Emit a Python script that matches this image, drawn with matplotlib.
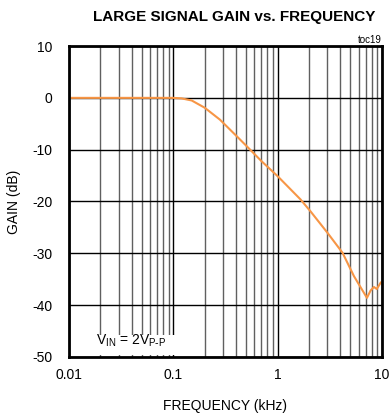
import matplotlib.pyplot as plt
from matplotlib.patches import Rectangle

plt.rcParams['font.family'] = ['Liberation Sans', 'DejaVu Sans']
plt.rcParams['axes.unicode_minus'] = False

# Gain curve
freq_khz = [0.01, 0.05, 0.1, 0.12, 0.15, 0.2, 0.28, 0.42, 0.51, 0.7, 1.0,
            1.66, 2.07, 3.0, 4.2, 5.4, 7.2, 7.8, 8.4, 8.95, 9.8, 10.0]
gain_db = [0.0, 0.0, 0.0, -0.1, -0.5, -1.9, -4.2, -7.7, -9.4, -12.2, -15.1,
           -19.6, -21.9, -26.0, -29.9, -34.4, -38.6, -37.2, -36.5, -36.9, -35.6, -35.8]

x_ticks = [0.01, 0.1, 1, 10]
x_ticklabels = ['0.01', '0.1', '1', '10']
y_ticks = [-50, -40, -30, -20, -10, 0, 10]

fig = plt.figure(figsize=(3.9, 4.15), dpi=100)
ax = fig.add_axes([0.177, 0.140, 0.802, 0.749])

ax.set_xscale('log')
ax.set_xlim(0.01, 10)
ax.set_ylim(-50, 10)

# grid: decades and every 10 dB in black, minor decades in gray
ax.grid(which='major', axis='both', color='black', lw=1.0)
ax.grid(which='minor', axis='x', color='#606060', lw=1.0)
ax.set_axisbelow(True)

ax.plot(freq_khz, gain_db, color='#f79646', lw=1.5, zorder=3)

ax.set_xticks(x_ticks)
ax.set_xticklabels(x_ticklabels)
ax.set_yticks(y_ticks)
ax.tick_params(which='both', length=0, labelsize=10, pad=8)
ax.tick_params(axis='y', pad=12)

for s in ax.spines.values():
    s.set_linewidth(2)
    s.set_zorder(4)

ax.set_xlabel('FREQUENCY (kHz)', fontsize=10, labelpad=12)
ax.set_ylabel('GAIN (dB)', fontsize=10, labelpad=8)

fig.text(0.60, 0.958, 'LARGE SIGNAL GAIN vs. FREQUENCY', ha='center', va='center',
         fontsize=11, fontweight='bold')
ax.text(1.0, 1.005, 'toc19', transform=ax.transAxes, ha='right', va='bottom', fontsize=7)

# white patch behind the condition label (drawn on top of the axes)
fig.add_artist(Rectangle((0.007, 0.007), 0.343, 0.063, transform=ax.transAxes,
                         facecolor='white', edgecolor='none', zorder=1))
fig.text(0.085, 0.025, r'V$_{\mathregular{IN}}$ = 2V$_{\mathregular{P\text{-}P}}$',
         transform=ax.transAxes, ha='left', va='bottom', fontsize=10, zorder=2)

fig.savefig('out.png', dpi=100)
